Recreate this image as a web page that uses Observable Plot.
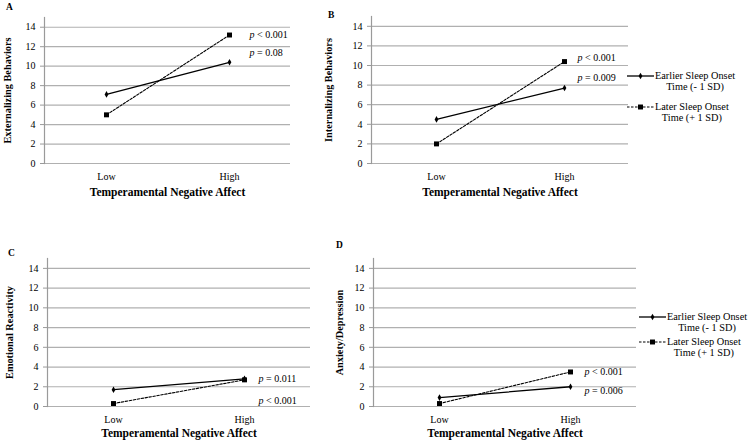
<!DOCTYPE html>
<html>
<head>
<meta charset="utf-8">
<script src="https://cdn.jsdelivr.net/npm/d3@7"></script>
<script src="https://cdn.jsdelivr.net/npm/@observablehq/plot@0.6"></script>
<style>
  html, body { margin: 0; padding: 0; background: #fff; }
  #chart { position: relative; width: 750px; height: 442px; background: #fff; font-family: "Liberation Serif", "DejaVu Serif", serif; color: #000; overflow: hidden; }
  .letter { position: absolute; font-weight: bold; font-size: 9.5px; line-height: 10px; }
  .legend-item { position: absolute; display: flex; align-items: flex-start; }
  .legend-item .txt { font-size: 10.3px; line-height: 11px; text-align: center; white-space: nowrap; }
  .legend-item svg { display: block; }
</style>
</head>
<body>
<div id="chart"></div>
<script>
// ---------- data ----------
const levels = ["Low", "High"];
const seriesNames = ["Earlier Sleep Onset Time (- 1 SD)", "Later Sleep Onset Time (+ 1 SD)"];
const legendLine1 = ["Earlier Sleep Onset", "Later Sleep Onset"];
const legendLine2 = ["Time (- 1 SD)", "Time (+ 1 SD)"];
const panelLetters = ["A", "B", "C", "D"];
const yTitles = ["Externalizing Behaviors", "Internalizing Behaviors", "Emotional Reactivity", "Anxiety/Depression"];
const xTitle = "Temperamental Negative Affect";
const earlierValues = [[7.1, 10.4], [4.5, 7.7], [1.7, 2.8], [0.9, 2.0]];
const laterValues = [[5.0, 13.2], [2.0, 10.4], [0.3, 2.7], [0.3, 3.5]];
const earlierP = ["p = 0.08", "p = 0.009", "p = 0.011", "p = 0.006"];
const laterP = ["p < 0.001", "p < 0.001", "p < 0.001", "p < 0.001"];
const yTicks = [0, 2, 4, 6, 8, 10, 12, 14];
const yMax = 15;

// ---------- layout (per panel) ----------
const layout = [
  {left: 0,   top: 0,   width: 330, height: 200, mL: 44, mR: 40, mT: 17, mB: 37, yLabelOffset: 41, xPad: 9, xLabelOffset: 32, pDx: 20, pDyE: -9, pDyL: 0,  letter: [6, 2]},
  {left: 315, top: 0,   width: 315, height: 200, mL: 56, mR: 2,  mT: 16, mB: 37, yLabelOffset: 47, xPad: 9, xLabelOffset: 32, pDx: 13, pDyE: -10, pDyL: -4, letter: [328, 10]},
  {left: 0,   top: 220, width: 330, height: 222, mL: 47, mR: 20, mT: 38, mB: 36, yLabelOffset: 42, xPad: 9, xLabelOffset: 30, pDx: 14, pDyE: 0,  pDyL: 21, letter: [8, 248]},
  {left: 315, top: 220, width: 325, height: 222, mL: 58, mR: 4,  mT: 38, mB: 36, yLabelOffset: 38, xPad: 9, xLabelOffset: 30, pDx: 14, pDyE: 4,  pDyL: 0,  letter: [336, 240]}
];

const chart = document.getElementById("chart");

function italicP(svg) {
  svg.querySelectorAll("g.pval text").forEach(t => {
    const s = t.textContent;
    if (s.startsWith("p ")) {
      t.textContent = "";
      const ns = "http://www.w3.org/2000/svg";
      const a = document.createElementNS(ns, "tspan");
      a.setAttribute("font-style", "italic");
      a.textContent = "p";
      const b = document.createElementNS(ns, "tspan");
      b.textContent = s.slice(1);
      t.appendChild(a); t.appendChild(b);
    }
  });
}

layout.forEach((L, i) => {
  const early = levels.map((lv, j) => ({level: lv, series: seriesNames[0], value: earlierValues[i][j]}));
  const late = levels.map((lv, j) => ({level: lv, series: seriesNames[1], value: laterValues[i][j]}));
  const plot = Plot.plot({
    width: L.width, height: L.height,
    marginLeft: L.mL, marginRight: L.mR, marginTop: L.mT, marginBottom: L.mB,
    style: {fontFamily: "'Liberation Serif', serif", fontSize: "10px", background: "transparent", color: "#000", overflow: "visible"},
    x: {type: "point", domain: levels, padding: 0.5},
    y: {domain: [0, yMax]},
    marks: [
      Plot.gridY(yTicks, {stroke: "#b0b0b0", strokeOpacity: 1, strokeWidth: 1.2}),
      Plot.axisY(yTicks, {tickSize: 4, tickPadding: 5, stroke: "#9a9a9a", label: yTitles[i], labelAnchor: "center", labelArrow: "none", labelOffset: L.yLabelOffset, fill: "#000"}),
      Plot.frame({anchor: "left", stroke: "#9a9a9a", strokeWidth: 1.2}),
      Plot.axisX({tickSize: 0, tickPadding: L.xPad, label: xTitle, labelAnchor: "center", labelArrow: "none", labelOffset: L.xLabelOffset, fill: "#000"}),
      Plot.line(early, {x: "level", y: "value", stroke: "#000", strokeWidth: 1.3}),
      Plot.line(late, {x: "level", y: "value", stroke: "#000", strokeWidth: 1.1, strokeDasharray: "2.5,1.5"}),
      Plot.dot(early, {x: "level", y: "value", symbol: "diamond", r: 2.0, fill: "#000", stroke: "none"}),
      Plot.dot(late, {x: "level", y: "value", symbol: "square", r: 2.8, fill: "#000", stroke: "none"}),
      Plot.text(early.filter(d => d.level === "High"), {x: "level", y: "value", text: () => earlierP[i], dx: L.pDx, dy: L.pDyE, textAnchor: "start", className: "pval", fontSize: 10}),
      Plot.text(late.filter(d => d.level === "High"), {x: "level", y: "value", text: () => laterP[i], dx: L.pDx, dy: L.pDyL, textAnchor: "start", className: "pval", fontSize: 10})
    ]
  });
  plot.style.position = "absolute";
  plot.style.left = L.left + "px";
  plot.style.top = L.top + "px";
  plot.querySelectorAll('g[aria-label="y-axis label"] text, g[aria-label="x-axis label"] text').forEach(t => {
    t.setAttribute("font-weight", "bold");
  });
  plot.querySelectorAll('g[aria-label="y-axis label"]').forEach(g => g.setAttribute("font-size", "10.3"));
  plot.querySelectorAll('g[aria-label="x-axis label"]').forEach(g => g.setAttribute("font-size", "11.5"));
  italicP(plot);
  chart.appendChild(plot);

  const letter = document.createElement("div");
  letter.className = "letter";
  letter.textContent = panelLetters[i];
  letter.style.left = L.letter[0] + "px";
  letter.style.top = L.letter[1] + "px";
  chart.appendChild(letter);
});

// ---------- legends (for panels B and D) ----------
const legendPlaces = [
  {left: 627, tops: [70, 101]},
  {left: 639, tops: [311, 336]}
];
function swatch(k) {
  const w = 27, h = 12;
  const svg = d3.create("svg").attr("width", w).attr("height", h);
  svg.append("line").attr("x1", 0).attr("x2", w).attr("y1", 6).attr("y2", 6)
    .attr("stroke", "#000").attr("stroke-width", k === 0 ? 1.3 : 1.1)
    .attr("stroke-dasharray", k === 0 ? null : "2.5,1.5");
  if (k === 0) {
    svg.append("path").attr("d", d3.symbol(d3.symbolDiamond, 2.0 * 2.0 * Math.PI)()).attr("transform", `translate(${w / 2},6)`).attr("fill", "#000");
  } else {
    svg.append("path").attr("d", d3.symbol(d3.symbolSquare, 2.8 * 2.8 * Math.PI)()).attr("transform", `translate(${w / 2},6)`).attr("fill", "#000");
  }
  return svg.node();
}
legendPlaces.forEach(P => {
  [0, 1].forEach(k => {
    const item = document.createElement("div");
    item.className = "legend-item";
    item.style.left = P.left + "px";
    item.style.top = P.tops[k] + "px";
    item.appendChild(swatch(k));
    const txt = document.createElement("div");
    txt.className = "txt";
    txt.innerHTML = legendLine1[k] + "<br>" + legendLine2[k];
    txt.style.marginLeft = "1px";
    item.appendChild(txt);
    chart.appendChild(item);
  });
});
</script>
</body>
</html>
